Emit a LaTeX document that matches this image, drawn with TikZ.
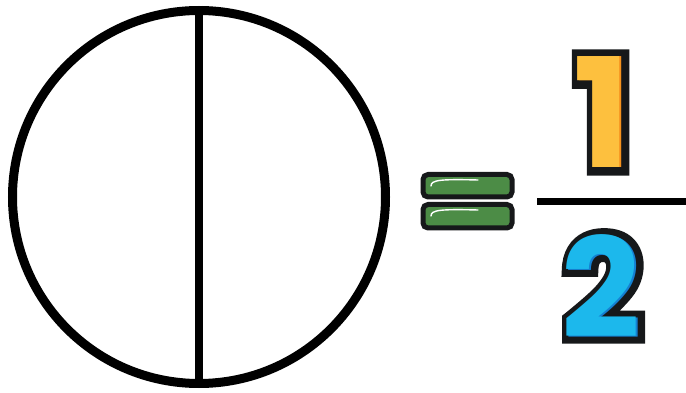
\documentclass[tikz,border=0pt]{standalone}
\usepackage{fontspec}
\newfontfamily\digitfont{Poppins}
\newfontfamily\digitout{Poppins}[FakeBold=10]
\definecolor{outl}{RGB}{22,24,26}
\definecolor{eqgreen}{RGB}{76,140,70}
\definecolor{onelight}{RGB}{253,192,62}
\definecolor{onedark}{RGB}{246,146,30}
\definecolor{twolight}{RGB}{28,184,236}
\definecolor{twodark}{RGB}{20,128,210}
\newcommand{\toondigit}[4]{% #1 size, #2 dark, #3 light, #4 digit
  \fontsize{#1}{#1}\selectfont\bfseries
  \rlap{\digitout\color{outl}#4}%
  \rlap{\digitfont\color{#2}#4}%
  \hspace*{-2pt}\raisebox{1pt}{\digitfont\color{#3}#4}}
\tikzset{
  ring/.style={line width=9pt, draw=black},
  eqbar/.style={draw=outl, line width=5pt, fill=eqgreen, rounded corners=5pt},
  shine/.style={draw=white, line width=1.4pt, line cap=round},
  digit/.style={inner sep=0pt, anchor=base},
}
\begin{document}
\begin{tikzpicture}[x=1pt,y=-1pt]
\useasboundingbox (0,0) rectangle (686,393);
% circle split in halves
\node[circle, ring, minimum size=373pt, inner sep=0pt] (c) at (199,197) {};
\draw[line width=8pt] (c.north) -- (c.south);
% equals sign
\draw[eqbar] (423,174.5) rectangle (512,197);
\draw[eqbar] (423,204.5) rectangle (512,228);
\draw[shine] (431,186) .. controls (431,180) and (440,179) .. (478,180);
\draw[shine] (431,216) .. controls (431,210) and (440,209) .. (478,210);
% fraction bar
\draw[line width=7pt] (537,202) -- (686,202);
% numerator 1
\node[digit] (n1) at (603,168) {\toondigit{152}{onedark}{onelight}{1}};
% denominator 2
\node[digit] (n2) at (602,338) {\toondigit{138}{twodark}{twolight}{2}};
\end{tikzpicture}
\end{document}
